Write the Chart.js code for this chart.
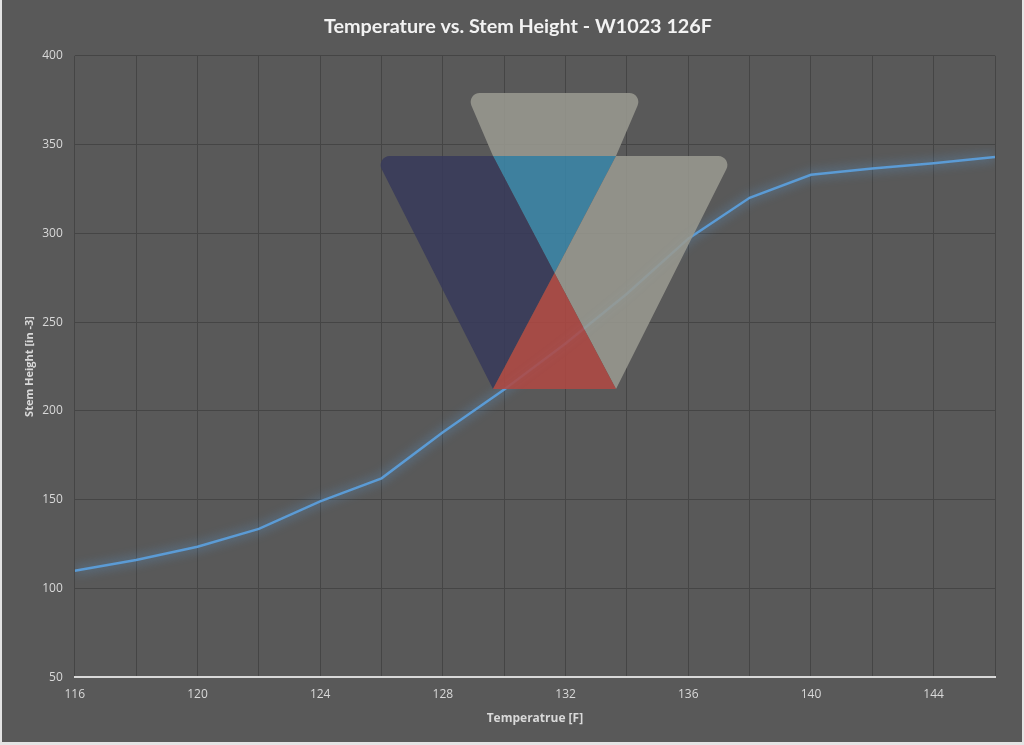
<!DOCTYPE html>
<html>
<head>
<meta charset="utf-8">
<script src="https://cdn.jsdelivr.net/npm/chart.js@4"></script>
<style>
  body { margin: 0; background: #e4e4e4; }
  #wrap { position: absolute; left: 2px; top: 0; width: 1020px; height: 742px; background: #595959; }
</style>
</head>
<body>
<div id="wrap"><canvas id="grafico"></canvas></div>
<script>
const temperaturas = [116, 118, 120, 122, 124, 126, 128, 130, 132, 134, 136, 138, 140, 142, 144, 146]
const alturas = [110, 116, 123.5, 133.5, 149, 162, 188, 212, 238, 266, 297, 320, 333, 336.5, 339.5, 343]
const titulo = 'Temperature vs. Stem Height - W1023 126F'
const tituloX = 'Temperatrue [F]'
const tituloY = 'Stem Height [in -3]'

const corTexto = '#d9d9d9'
const corGrade = '#454545'

// brilho da linha
const brilho = {
  id: 'brilho',
  beforeDatasetDraw(chart) {
    const ctx = chart.ctx
    ctx.save()
    ctx.shadowColor = 'rgba(91, 155, 213, 1)'
    ctx.shadowBlur = 11
  },
  afterDatasetDraw(chart) {
    chart.ctx.restore()
  }
}

// logo em marca d'agua por cima do grafico (decoracao, em pixels do canvas)
const logo = {
  id: 'logo',
  afterDatasetsDraw(chart) {
    const ctx = chart.ctx
    const r = 9
    const poly = (pts, cor, cantos) => {
      ctx.beginPath()
      const n = pts.length
      if (cantos) {
        ctx.moveTo((pts[0][0] + pts[n - 1][0]) / 2, (pts[0][1] + pts[n - 1][1]) / 2)
        for (let i = 0; i < n; i++) {
          const p = pts[i], q = pts[(i + 1) % n]
          if (cantos.includes(i)) ctx.arcTo(p[0], p[1], q[0], q[1], r)
          else ctx.lineTo(p[0], p[1])
        }
      } else {
        ctx.moveTo(pts[0][0], pts[0][1])
        for (let i = 1; i < n; i++) ctx.lineTo(pts[i][0], pts[i][1])
      }
      ctx.closePath()
      ctx.fillStyle = cor
      ctx.fill()
    }
    ctx.save()
    ctx.globalAlpha = 0.88
    ctx.translate(-2, 0)
    const cinza = 'rgb(153, 153, 144)'
    poly([[466, 93], [643, 93], [616, 156], [493, 156]], cinza, [0, 1])
    poly([[493, 156], [616, 156], [554.5, 273]], 'rgb(58, 133, 167)')
    poly([[375, 156], [493, 156], [554.5, 273], [493, 389]], 'rgb(56, 58, 90)', [0])
    poly([[616, 156], [733, 156], [616, 389], [554.5, 273]], cinza, [1])
    poly([[554.5, 273], [493, 389], [616, 389]], 'rgb(175, 73, 67)')
    ctx.restore()
  }
}

new Chart(document.getElementById('grafico'), {
  type: 'line',
  data: {
    datasets: [{
      label: 'Stem Height',
      data: temperaturas.map((t, i) => ({ x: t, y: alturas[i] })),
      borderColor: '#5b9bd5',
      borderWidth: 2.5,
      pointRadius: 0,
      tension: 0,
      fill: false
    }]
  },
  options: {
    responsive: true,
    maintainAspectRatio: false,
    animation: false,
    layout: { padding: { left: 39, right: 27, top: 4, bottom: 12 } },
    plugins: {
      legend: { display: false },
      tooltip: { enabled: false },
      title: {
        display: true,
        text: titulo,
        color: '#f2f2f2',
        font: { family: 'Lato', size: 19.8, weight: 'bold' },
        padding: { top: 11, bottom: 17 }
      }
    },
    scales: {
      x: {
        type: 'linear',
        min: 116,
        max: 146,
        ticks: {
          stepSize: 2,
          autoSkip: false,
          maxRotation: 0,
          color: corTexto,
          font: { family: 'Open Sans', size: 12 },
          padding: 10,
          callback: v => (v % 4 === 0 ? v : '')
        },
        grid: { color: corGrade, lineWidth: 1, drawTicks: false },
        border: { color: '#d9d9d9', width: 2 },
        title: {
          display: true,
          text: tituloX,
          color: corTexto,
          font: { family: 'Open Sans', size: 12, weight: 'bold' },
          padding: { top: 0 }
        }
      },
      y: {
        min: 50,
        max: 400,
        ticks: {
          stepSize: 50,
          color: corTexto,
          font: { family: 'Open Sans', size: 12 },
          padding: 12
        },
        grid: { color: corGrade, lineWidth: 1, drawTicks: false },
        border: { display: false },
        title: {
          display: true,
          text: tituloY,
          color: corTexto,
          font: { family: 'Open Sans', size: 11, weight: 'bold' },
          padding: { top: -17.6, bottom: -6.4 }
        }
      }
    }
  },
  plugins: [brilho, logo]
})
</script>
</body>
</html>
